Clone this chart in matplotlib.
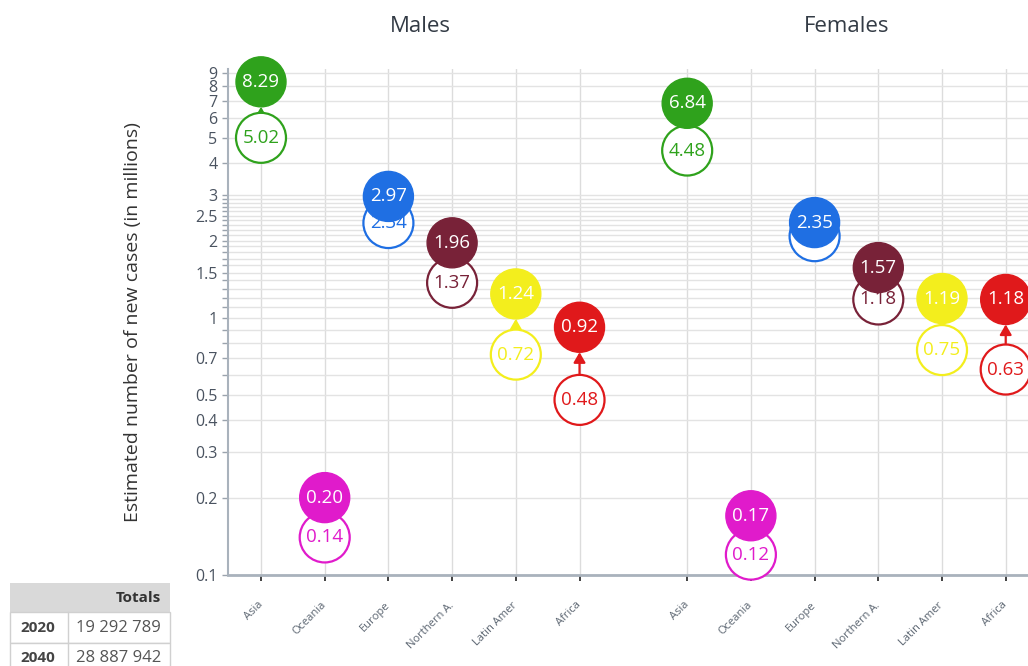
import matplotlib
matplotlib.use('Agg')
import matplotlib.pyplot as plt
from matplotlib.patches import Rectangle

plt.rcParams['font.family'] = ['Open Sans', 'DejaVu Sans']

# ---------------- data ----------------
regions = ['Asia', 'Oceania', 'Europe', 'Northern A.', 'Latin Amer', 'Africa']
colors = ['#2fa21c', '#e01bcb', '#1f6fe3', '#782238', '#f3ee1d', '#e0191b']
males_2020 = [5.02, 0.14, 2.34, 1.37, 0.72, 0.48]
males_2040 = [8.29, 0.20, 2.97, 1.96, 1.24, 0.92]
females_2020 = [4.48, 0.12, 2.08, 1.18, 0.75, 0.63]
females_2040 = [6.84, 0.17, 2.35, 1.57, 1.19, 1.18]
panel_titles = ['Males', 'Females']
y_label = 'Estimated number of new cases (in millions)'
y_major = [0.1, 0.2, 0.3, 0.4, 0.5, 0.7, 1, 1.5, 2, 2.5, 3, 4, 5, 6, 7, 8, 9]
y_major_labels = ['0.1', '0.2', '0.3', '0.4', '0.5', '0.7', '1', '1.5', '2', '2.5',
                  '3', '4', '5', '6', '7', '8', '9']
y_minor = [0.6, 0.8, 0.9, 1.1, 1.2, 1.3, 1.4, 1.6, 1.7, 1.8, 1.9,
           2.1, 2.2, 2.3, 2.4, 2.6, 2.7, 2.8, 2.9]
table_header = 'Totals'
table_years = ['2020', '2040']
table_totals = ['19 292 789', '28 887 942']

# ---------------- layout ----------------
W, H = 1028, 666
fig = plt.figure(figsize=(W / 100, H / 100), dpi=100)
fig.patch.set_facecolor('white')

ax = fig.add_axes([228 / W, 1 - 575 / H, 1 - 228 / W, (575 - 69) / H])
ax.set_facecolor('none')
ax.set_yscale('log')
ax.set_ylim(0.1, 9.3)
female_offset = 6.69
ax.set_xlim(-0.518, 12.04)

male_x = list(range(len(regions)))
female_x = [female_offset + i for i in range(len(regions))]
all_x = male_x + female_x

# ticks
ax.set_yticks(y_major, y_major_labels)
ax.set_yticks(y_minor, minor=True)
ax.yaxis.set_minor_formatter(plt.NullFormatter())
ax.tick_params(axis='y', which='both', length=4.5, width=1, color='#9aa3ad',
               labelsize=11.5, labelcolor='#4a5360', pad=3)
ax.set_xticks(all_x, regions + regions, rotation=45, ha='right', va='center',
              rotation_mode='anchor')
ax.tick_params(axis='x', length=4.5, width=1.3, color='#333333', labelsize=8,
               labelcolor='#5a6470', pad=16)

# grid
ax.grid(axis='y', which='both', color='#e3e3e3', lw=1, zorder=0)
ax.grid(axis='x', which='major', color='#dcdcdc', lw=1, zorder=0)
ax.set_axisbelow(True)

for s in ['top', 'right']:
    ax.spines[s].set_visible(False)
ax.spines['left'].set_color('#a9b2bc')
ax.spines['left'].set_linewidth(1.5)
ax.spines['bottom'].set_color('#a9b2bc')
ax.spines['bottom'].set_linewidth(2)

# ---------------- bubbles ----------------
size = (50 * 0.72) ** 2
radius_pt = 25 * 0.72

def draw_group(xs, v20, v40):
    for x, a, b, c in zip(xs, v20, v40, colors):
        ax.annotate('', xy=(x, b), xytext=(x, a),
                    arrowprops=dict(arrowstyle='-|>,head_length=0.6,head_width=0.35',
                                    color=c, lw=1.6, shrinkA=0, shrinkB=radius_pt),
                    zorder=2.5, annotation_clip=False)
    ax.scatter(xs, v20, s=size, facecolor='white', edgecolor=colors, linewidth=1.6,
               zorder=3, clip_on=False)
    for x, a, c in zip(xs, v20, colors):
        ax.text(x, a, f'{a:.2f}', ha='center', va='center', color=c, fontsize=13.5,
                zorder=4, clip_on=False)
    ax.scatter(xs, v40, s=size, facecolor=colors, edgecolor=colors, linewidth=1.0,
               zorder=5, clip_on=False)
    for x, b in zip(xs, v40):
        ax.text(x, b, f'{b:.2f}', ha='center', va='center', color='white', fontsize=13.5,
                zorder=6, clip_on=False)

draw_group(male_x, males_2020, males_2040)
draw_group(female_x, females_2020, females_2040)

# titles
title_y = 1 + (69 - 27) / (575 - 69)
for xs, t in zip([male_x, female_x], panel_titles):
    xc = (xs[0] + xs[-1]) / 2
    ax.text(xc, title_y, t, transform=ax.get_xaxis_transform(), ha='center', va='center',
            fontsize=16, color='#333b45', clip_on=False)

fig.text(133 / W, 1 - 322 / H, y_label, rotation=90, ha='center', va='center',
         fontsize=14, color='#333333')

# ---------------- totals table ----------------
tax = fig.add_axes([0, 0, 1, 1], zorder=-1)
tax.set_xlim(0, W)
tax.set_ylim(H, 0)
tax.axis('off')
tx0, tx1, tdiv = 10, 170, 68
rows = [(583, 612), (612, 643), (643, 672)]
tax.add_patch(Rectangle((tx0, rows[0][0]), tx1 - tx0, rows[0][1] - rows[0][0],
                        facecolor='#d9d9d9', edgecolor='none'))
for (r0, r1) in rows[1:]:
    tax.add_patch(Rectangle((tx0, r0), tx1 - tx0, r1 - r0, facecolor='white',
                            edgecolor='#d0d0d0', lw=1))
    tax.plot([tdiv, tdiv], [r0, r1], color='#d0d0d0', lw=1)
tax.text(161, (rows[0][0] + rows[0][1]) / 2, table_header, ha='right', va='center',
         fontsize=11, fontweight='bold', color='#333333')
for (r0, r1), yr, tot in zip(rows[1:], table_years, table_totals):
    yc = (r0 + r1) / 2
    tax.text(20, yc, yr, ha='left', va='center', fontsize=11, fontweight='bold',
             color='#444444')
    tax.text(161, yc, tot, ha='right', va='center', fontsize=12, color='#555555')

fig.savefig('out.png', dpi=100)
